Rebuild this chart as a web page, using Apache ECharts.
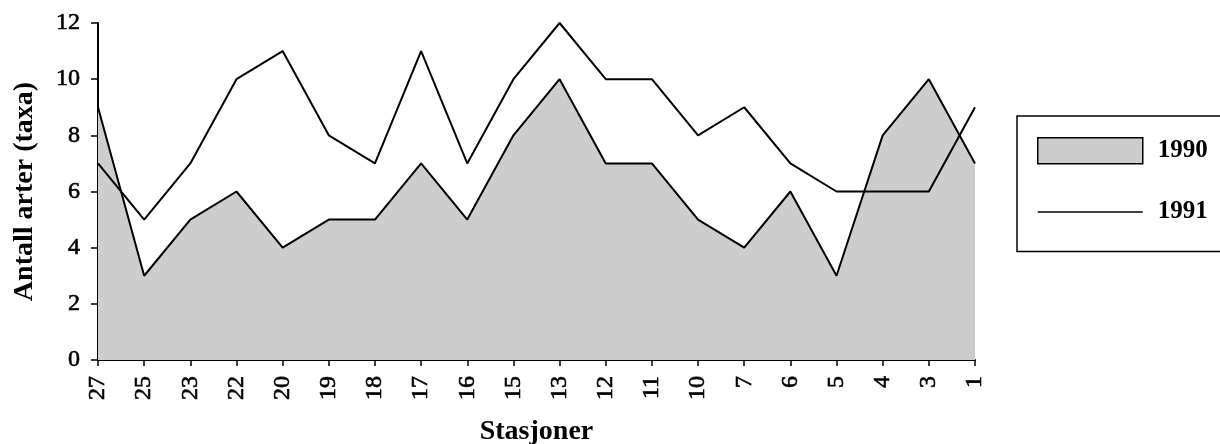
<!DOCTYPE html>
<html>
<head>
<meta charset="utf-8">
<script src="https://cdn.jsdelivr.net/npm/echarts@6/dist/echarts.min.js"></script>
<style>
html,body{margin:0;padding:0;background:#fff;}
#chart{width:1220px;height:444px;}
</style>
</head>
<body>
<div id="chart"></div>
<script>
const stations = ['27','25','23','22','20','19','18','17','16','15','13','12','11','10','7','6','5','4','3','1'];
const taxa1990 = [9,3,5,6,4,5,5,7,5,8,10,7,7,5,4,6,3,8,10,7];
const taxa1991 = [7,5,7,10,11,8,7,11,7,10,12,10,10,8,9,7,6,6,6,9];
const yTicks = [0,2,4,6,8,10,12];

const serif = '"Liberation Serif","DejaVu Serif",serif';
const chart = echarts.init(document.getElementById('chart'));
chart.setOption({
  animation: false,
  backgroundColor: '#fff',
  grid: {left: 98, right: 245, top: 23, bottom: 84, outerBoundsMode: 'none', containLabel: false},
  legend: {
    orient: 'vertical',
    left: 1017, top: 116,
    padding: [21, 60, 27, 20],
    itemWidth: 105, itemHeight: 26, itemGap: 35,
    borderColor: '#000', borderWidth: 1.5,
    symbolKeepAspect: true,
    textStyle: {fontFamily: serif, fontWeight: 'bold', fontSize: 25, color: '#000', padding: [0,0,0,10]},
    data: [
      {name: '1990', icon: 'rect', itemStyle: {color: '#cdcdcd', borderColor: '#000', borderWidth: 1.5}},
      {name: '1991', icon: 'path://M0,0L100,0L100,1.6L0,1.6Z', itemStyle: {color: '#000', borderWidth: 0}}
    ]
  },
  xAxis: {
    type: 'category',
    data: stations,
    boundaryGap: false,
    name: 'Stasjoner',
    nameLocation: 'middle',
    nameGap: 58,
    nameTextStyle: {fontFamily: serif, fontWeight: 'bold', fontSize: 28, color: '#000'},
    axisLine: {lineStyle: {color: '#000', width: 2}},
    axisTick: {show: true, alignWithLabel: true, length: 6, lineStyle: {color: '#000', width: 1.5}},
    axisLabel: {rotate: 90, interval: 0, fontFamily: serif, fontSize: 24, color: '#000', margin: 16,
      textBorderColor: '#000', textBorderWidth: 0.6}
  },
  yAxis: {
    type: 'value',
    min: 0, max: 12, interval: 2,
    name: 'Antall arter (taxa)',
    nameLocation: 'middle',
    nameGap: 59,
    nameRotate: 90,
    nameTextStyle: {fontFamily: serif, fontWeight: 'bold', fontSize: 28, color: '#000'},
    axisLine: {show: true, lineStyle: {color: '#000', width: 2}},
    axisTick: {show: true, length: 7, lineStyle: {color: '#000', width: 1.5}},
    axisLabel: {fontFamily: serif, fontSize: 24, color: '#000', margin: 18,
      textBorderColor: '#000', textBorderWidth: 0.6,
      formatter: v => yTicks.includes(v) ? String(v) : ''},
    splitLine: {show: false}
  },
  series: [
    {
      name: '1990', type: 'line', data: taxa1990,
      symbol: 'none',
      lineStyle: {color: '#000', width: 2},
      itemStyle: {color: '#cdcdcd'},
      areaStyle: {color: '#cdcdcd', opacity: 1},
      z: 2
    },
    {
      name: '1991', type: 'line', data: taxa1991,
      symbol: 'none',
      lineStyle: {color: '#000', width: 2},
      itemStyle: {color: '#000'},
      z: 3
    }
  ]
});
</script>
</body>
</html>
